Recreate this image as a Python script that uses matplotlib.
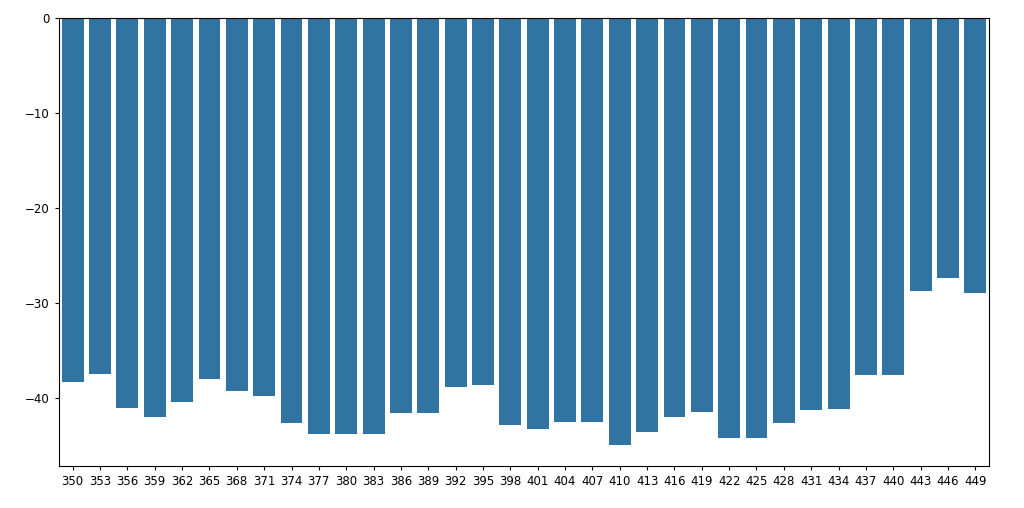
import matplotlib
matplotlib.use('Agg')
import matplotlib.pyplot as plt

categories = [350, 353, 356, 359, 362, 365, 368, 371, 374, 377, 380, 383, 386, 389, 392, 395, 398,
              401, 404, 407, 410, 413, 416, 419, 422, 425, 428, 431, 434, 437, 440, 443, 446, 449]
values = [-38.3, -37.5, -41.1, -42.0, -40.5, -38.0, -39.3, -39.8, -42.7, -43.8, -43.8, -43.8,
          -41.6, -41.6, -38.9, -38.7, -42.9, -43.3, -42.6, -42.6, -45.0, -43.6, -42.0, -41.5,
          -44.3, -44.3, -42.7, -41.3, -41.2, -37.6, -37.6, -28.8, -27.4, -29.0]

fig = plt.figure(figsize=(10.24, 5.08), dpi=100)
ax = fig.add_axes([59 / 1024, 1 - 466 / 508, (989 - 59) / 1024, (466 - 18) / 508])

x = list(range(len(categories)))
ax.bar(x, values, width=0.8, color='#3274a1')
ax.set_xticks(x)
ax.set_xticklabels(categories)
ax.set_xlim(-0.5, len(categories) - 0.5)
ax.set_ylim(-47.2, 0)
ax.set_yticks([0, -10, -20, -30, -40])
ax.tick_params(axis='both', labelsize=8.5, length=3.2)

fig.savefig('out.png', dpi=100)
